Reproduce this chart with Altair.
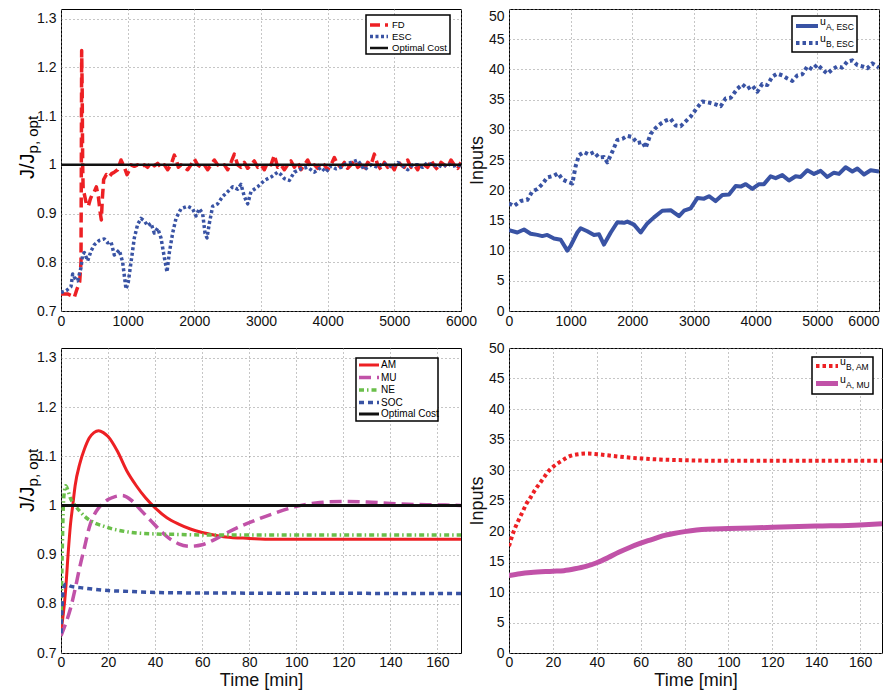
import altair as alt
import pandas as pd

FONT = "Liberation Sans"
RED = "#ed2024"
BLUE = "#3953a4"
MAGENTA = "#c152a8"
GREEN = "#6abf4a"
BLACK = "#111111"

# ---------------- top-left: cost ratio, long horizon ----------------
fd_t = [0, 100, 150, 200, 240, 280, 300, 305, 310, 318, 325, 332, 350, 380, 410, 440, 470, 500, 530, 560,
        590, 605, 620, 640, 680, 720, 760, 800, 850, 900, 950, 990, 1010, 1050, 1100, 1150, 1200, 1250,
        1300, 1350, 1400, 1450, 1500, 1550, 1600, 1650, 1700, 1730, 1760, 1800, 1850, 1900, 1950, 2000,
        2050, 2100, 2150, 2200, 2250, 2300, 2350, 2400, 2450, 2500, 2550, 2600, 2650, 2700, 2750, 2800,
        2850, 2900, 2950, 3000, 3050, 3100, 3150, 3200, 3250, 3300, 3350, 3400, 3450, 3500, 3550, 3600,
        3650, 3700, 3750, 3800, 3850, 3900, 3950, 4000, 4050, 4100, 4150, 4200, 4250, 4300, 4350, 4400,
        4450, 4500, 4550, 4600, 4650, 4700, 4750, 4800, 4850, 4900, 4950, 5000, 5050, 5100, 5150, 5200,
        5250, 5300, 5350, 5400, 5450, 5500, 5550, 5600, 5650, 5700, 5750, 5800, 5850, 5900, 5950, 6000]
fd_v = [0.735, 0.735, 0.732, 0.728, 0.745, 0.76, 0.80, 1.0, 1.235, 1.15, 1.0, 0.95, 0.94, 0.92, 0.915, 0.93,
        0.94, 0.945, 0.955, 0.935, 0.90, 0.887, 0.93, 0.97, 0.98, 0.975, 0.982, 0.985, 0.99, 1.01, 0.995,
        0.98, 0.985, 1.0, 0.997, 1.0, 0.995, 1.0, 0.995, 1.005, 0.998, 1.003, 0.995, 1.0, 0.99, 1.0, 1.02,
        1.01, 0.995, 1.0, 0.995, 0.99, 1.0, 1.012, 1.0, 0.995, 1.0, 0.99, 1.0, 1.01, 1.0, 0.995, 1.0, 0.99,
        1.005, 1.022, 1.0, 0.995, 1.005, 0.993, 1.0, 1.008, 0.995, 1.0, 0.99, 1.005, 1.0, 1.02, 0.995, 1.0,
        0.99, 1.0, 1.008, 0.995, 1.005, 0.99, 1.0, 1.01, 0.995, 1.0, 0.993, 1.005, 1.0, 0.99, 1.0, 1.015,
        1.0, 0.995, 1.005, 0.993, 1.0, 1.01, 0.995, 1.0, 0.99, 1.005, 1.0, 1.022, 1.0, 0.99, 1.005, 0.995,
        1.0, 0.99, 1.008, 1.0, 0.995, 1.01, 0.995, 1.0, 0.99, 1.005, 1.0, 0.995, 1.01, 0.998, 0.99, 1.005,
        1.0, 0.995, 1.01, 1.0, 0.993, 1.005]
esc_t = [0, 80, 150, 175, 200, 250, 300, 325, 350, 400, 450, 500, 575, 650, 700, 750, 800, 875, 925, 975,
         1010, 1050, 1100, 1150, 1200, 1250, 1300, 1350, 1400, 1450, 1500, 1550, 1590, 1625, 1675, 1725,
         1800, 1900, 1975, 2025, 2075, 2125, 2160, 2190, 2225, 2275, 2350, 2425, 2500, 2575, 2650, 2700,
         2750, 2800, 2850, 2950, 3050, 3150, 3250, 3300, 3350, 3425, 3500, 3600, 3700, 3800, 3900, 3975,
         4050, 4125, 4200, 4275, 4350, 4450, 4550, 4650, 4750, 4825, 4900, 4975, 5050, 5125, 5200, 5275,
         5350, 5425, 5500, 5575, 5650, 5725, 5800, 5875, 5950, 6000]
esc_v = [0.738, 0.742, 0.75, 0.776, 0.769, 0.762, 0.789, 0.816, 0.82, 0.803, 0.823, 0.836, 0.845, 0.848,
         0.84, 0.842, 0.815, 0.825, 0.80, 0.745, 0.76, 0.80, 0.85, 0.878, 0.89, 0.885, 0.875, 0.88, 0.86,
         0.87, 0.85, 0.81, 0.78, 0.82, 0.86, 0.89, 0.91, 0.915, 0.91, 0.895, 0.91, 0.90, 0.86, 0.85, 0.88,
         0.915, 0.92, 0.935, 0.945, 0.955, 0.95, 0.96, 0.935, 0.92, 0.945, 0.955, 0.968, 0.975, 0.985, 0.98,
         0.972, 0.968, 0.985, 0.992, 0.995, 0.985, 0.995, 0.985, 0.998, 0.992, 0.995, 1.002, 1.005, 1.01,
         0.99, 1.0, 0.995, 1.003, 1.0, 0.995, 1.005, 0.998, 0.99, 1.0, 1.0, 0.995, 1.005, 0.998, 1.0, 0.995,
         1.003, 0.997, 1.0, 0.998]
opt_long_t = [0, 6000]
opt_long_v = [1.0, 1.0]

# ---------------- top-right: inputs, long horizon ----------------
ua_esc_t = [0, 135, 243, 351, 460, 540, 620, 730, 838, 946, 1000, 1108, 1162, 1270, 1378, 1460, 1540, 1650,
            1757, 1865, 1919, 2027, 2135, 2243, 2351, 2486, 2621, 2757, 2838, 2946, 3054, 3162, 3243, 3351,
            3460, 3568, 3676, 3757, 3838, 3946, 4054, 4135, 4243, 4324, 4432, 4540, 4649, 4730, 4838, 4946,
            5054, 5162, 5270, 5351, 5459, 5568, 5649, 5757, 5865, 6000]
ua_esc_v = [13.4, 13.0, 13.5, 12.8, 12.6, 12.4, 12.6, 12.0, 11.8, 10.0, 10.8, 13.0, 13.7, 13.2, 12.6, 12.7,
            11.0, 13.0, 14.7, 14.6, 14.8, 14.3, 13.0, 14.5, 15.5, 16.6, 16.7, 15.7, 16.6, 17.0, 18.7, 18.6,
            19.0, 18.2, 19.2, 19.3, 20.7, 20.6, 21.0, 20.2, 21.0, 21.0, 22.3, 22.0, 22.5, 21.6, 22.3, 22.2,
            23.3, 22.7, 23.2, 22.2, 22.9, 22.7, 23.8, 23.1, 23.6, 22.6, 23.3, 23.1]
ub_esc_t = [0, 81, 189, 297, 378, 460, 540, 620, 730, 795, 865, 946, 1027, 1081, 1135, 1216, 1297, 1378,
            1459, 1540, 1595, 1676, 1757, 1838, 1919, 2000, 2081, 2162, 2216, 2297, 2378, 2459, 2540, 2621,
            2703, 2784, 2865, 2946, 3054, 3135, 3243, 3351, 3432, 3514, 3595, 3703, 3784, 3865, 3946, 4027,
            4108, 4189, 4270, 4351, 4432, 4514, 4595, 4676, 4757, 4838, 4919, 5000, 5081, 5162, 5243, 5324,
            5405, 5486, 5568, 5649, 5730, 5811, 5892, 6000]
ub_esc_v = [17.8, 17.4, 18.2, 18.4, 19.8, 20.2, 21.0, 22.1, 22.4, 22.8, 21.8, 21.4, 21.1, 24.0, 25.8, 26.3,
            25.9, 26.3, 25.4, 25.5, 24.6, 26.4, 28.3, 28.5, 29.0, 28.8, 27.8, 28.0, 27.0, 29.3, 30.3, 31.0,
            31.5, 31.8, 30.7, 30.6, 31.4, 32.2, 33.7, 34.7, 34.5, 34.2, 33.9, 35.2, 35.3, 36.8, 37.5, 36.8,
            37.3, 36.3, 37.6, 37.4, 38.8, 39.3, 39.0, 38.5, 38.1, 39.0, 39.2, 40.5, 40.0, 40.8, 40.0, 39.3,
            40.0, 40.5, 40.3, 41.3, 41.5, 40.7, 40.5, 40.2, 41.0, 40.3]

# ---------------- bottom-left: cost ratio, minutes ----------------
am_t = [0, 1, 2, 3, 4, 5, 6, 8, 10, 12, 14, 16, 18, 20, 24, 28, 32, 36, 40, 45, 50, 55, 60, 65, 70, 80, 90, 100, 170]
am_v = [0.745, 0.78, 0.83, 0.90, 0.96, 1.0, 1.04, 1.085, 1.115, 1.137, 1.148, 1.152, 1.148, 1.14, 1.11, 1.07,
        1.04, 1.015, 0.995, 0.975, 0.962, 0.952, 0.945, 0.94, 0.936, 0.933, 0.931, 0.931, 0.931]
mu_t = [0, 2, 4, 6, 8, 10, 12, 14, 16, 18, 20, 23, 26, 30, 34, 38, 42, 46, 50, 55, 60, 65, 70, 75, 80, 90,
        100, 110, 120, 130, 140, 150, 160, 170]
mu_v = [0.735, 0.76, 0.79, 0.83, 0.875, 0.915, 0.955, 0.98, 0.995, 1.005, 1.012, 1.018, 1.02, 1.01, 0.99,
        0.97, 0.95, 0.933, 0.922, 0.917, 0.92, 0.93, 0.943, 0.955, 0.965, 0.983, 0.998, 1.006, 1.008, 1.007,
        1.004, 1.002, 1.001, 1.0]
ne_t = [0, 0.5, 1, 1.5, 2, 3, 4, 6, 8, 10, 14, 18, 22, 26, 30, 40, 50, 60, 170]
ne_v = [0.76, 0.90, 1.0, 1.03, 1.04, 1.03, 1.015, 1.0, 0.988, 0.978, 0.965, 0.958, 0.952, 0.948, 0.945,
        0.942, 0.941, 0.94, 0.94]
soc_t = [0, 0.5, 1, 2, 4, 10, 20, 30, 40, 60, 170]
soc_v = [0.74, 0.80, 0.83, 0.84, 0.836, 0.832, 0.827, 0.825, 0.823, 0.822, 0.821]
opt_short_t = [0, 170]
opt_short_v = [1.0, 1.0]

# ---------------- bottom-right: inputs, minutes ----------------
ub_am_t = [0, 2, 4, 6, 8, 10, 12, 14, 16, 18, 20, 24, 28, 32, 36, 40, 45, 50, 60, 70, 80, 100, 170]
ub_am_v = [17.5, 19.8, 21.5, 23.0, 24.5, 25.6, 26.8, 27.8, 28.8, 29.8, 30.5, 31.5, 32.3, 32.6, 32.7, 32.6,
           32.4, 32.2, 31.9, 31.7, 31.6, 31.5, 31.5]
ua_mu_t = [0, 5, 10, 20, 25, 30, 35, 40, 45, 50, 55, 60, 65, 70, 75, 80, 90, 100, 120, 140, 160, 170]
ua_mu_v = [12.7, 13.0, 13.2, 13.4, 13.5, 13.8, 14.2, 14.8, 15.6, 16.5, 17.3, 18.0, 18.6, 19.2, 19.6, 19.9,
           20.3, 20.4, 20.6, 20.8, 21.0, 21.2]

# ---------------- ticks ----------------
long_xticks = [0, 1000, 2000, 3000, 4000, 5000, 6000]
short_xticks = [0, 20, 40, 60, 80, 100, 120, 140, 160]
cost_yticks = [0.7, 0.8, 0.9, 1.0, 1.1, 1.2, 1.3]
input_yticks = [0, 5, 10, 15, 20, 25, 30, 35, 40, 45, 50]

ONE = pd.DataFrame({"k": [0]})


def line(t, v, x, y, color, width, dash=None, interp="linear"):
    kw = dict(color=color, strokeWidth=width, strokeCap="butt", strokeJoin="round", clip=True,
              interpolate=interp)
    if dash:
        kw["strokeDash"] = dash
    return alt.Chart(pd.DataFrame({"t": t, "v": v})).mark_line(**kw).encode(x=x, y=y)


def txt(s, x, y, size, **kw):
    return alt.Chart(ONE).mark_text(text=s, font=FONT, fontSize=size, color="black", **kw).encode(
        x=alt.value(x), y=alt.value(y))


def legend(box, rows, sample, text_x, size, entries, sub_dx=0, sub_size=8):
    x0, y0, x1, y1 = box
    layers = [alt.Chart(ONE).mark_rect(fill="white", stroke="black", strokeWidth=1.5).encode(
        x=alt.value(x0), x2=alt.value(x1), y=alt.value(y0), y2=alt.value(y1))]
    for (main, sub, color, width, dash), yc in zip(entries, rows):
        kw = dict(color=color, strokeWidth=width, strokeCap="butt")
        if dash:
            kw["strokeDash"] = dash
        layers.append(alt.Chart(ONE).mark_rule(**kw).encode(
            x=alt.value(sample[0]), x2=alt.value(sample[1]), y=alt.value(yc)))
        if sub:
            layers.append(txt(main, text_x, yc - 1, size, align="left", baseline="alphabetic"))
            layers.append(txt(sub, text_x + sub_dx, yc + 4, sub_size, align="left", baseline="alphabetic"))
        else:
            layers.append(txt(main, text_x, yc, size, align="left", baseline="middle"))
    return layers


def cost_title(y_start):
    return [
        txt("J/J", -27, y_start, 20, angle=270, align="left", baseline="alphabetic"),
        txt("p, opt", -23, y_start - 25.6, 15, angle=270, align="left", baseline="alphabetic"),
    ]


def xenc(dom, ticks, title=None, last_right=None, label_pad=3):
    ax = dict(values=ticks, title=title, format="d", labelPadding=label_pad, titlePadding=2, labelFlush=False)
    if last_right is not None:
        ax["labelAlign"] = {"condition": {"test": "datum.value == %d" % last_right, "value": "right"},
                            "value": "center"}
    return alt.X("t:Q", scale=alt.Scale(domain=dom, nice=False, zero=False), axis=alt.Axis(**ax))


def yenc_cost():
    return alt.Y("v:Q", scale=alt.Scale(domain=[0.7, 1.32], nice=False, zero=False),
                 axis=alt.Axis(values=cost_yticks, title=None, format="~g", labelPadding=5))


def yenc_input(flush_top=False):
    ax = dict(values=input_yticks, title="Inputs", labelPadding=5, titlePadding=2)
    if flush_top:
        ax["labelBaseline"] = {"condition": {"test": "datum.value == 50", "value": "top"}, "value": "middle"}
    return alt.Y("v:Q", scale=alt.Scale(domain=[0, 50], nice=False, zero=False), axis=alt.Axis(**ax))


# ---- top-left ----
x = xenc([0, 6000], long_xticks)
y = yenc_cost()
tl = alt.layer(
    line(fd_t, fd_v, x, y, RED, 3.5, [10, 5]),
    line(esc_t, esc_v, x, y, BLUE, 3.5, [3, 2.5]),
    line(opt_long_t, opt_long_v, x, y, BLACK, 2.5),
    *legend((305, 6, 389, 45), [16, 27.5, 39], (309, 327), 331, 9.5,
            [("FD", None, RED, 3.5, [10, 5]),
             ("ESC", None, BLUE, 3.5, [3, 2.5]),
             ("Optimal Cost", None, BLACK, 2.5, None)]),
    *cost_title(170),
    alt.Chart(ONE).mark_rule(opacity=0).encode(x=alt.value(-52), y=alt.value(0), y2=alt.value(1)),
).properties(width=400, height=302)

# ---- top-right ----
x = xenc([0, 6000], long_xticks, last_right=6000)
y = yenc_input(flush_top=True)
tr = alt.layer(
    line(ua_esc_t, ua_esc_v, x, y, BLUE, 4),
    line(ub_esc_t, ub_esc_v, x, y, BLUE, 4, [3.5, 3]),
    *legend((283, 7, 348, 43), [17, 34], (287, 309), 311, 10.5,
            [("u", "A, ESC", BLUE, 4, None),
             ("u", "B, ESC", BLUE, 4, [3.5, 3])], sub_dx=6, sub_size=8.5),
).properties(width=370, height=302)

# ---- bottom-left ----
x = xenc([0, 170], short_xticks, "Time [min]", label_pad=2)
y = yenc_cost()
bl = alt.layer(
    line(am_t, am_v, x, y, RED, 3, interp="monotone"),
    line(mu_t, mu_v, x, y, MAGENTA, 3.5, [12, 6], interp="monotone"),
    line(ne_t, ne_v, x, y, GREEN, 3.5, [5, 3, 1.5, 3], interp="monotone"),
    line(soc_t, soc_v, x, y, BLUE, 3.5, [5, 4], interp="monotone"),
    line(opt_short_t, opt_short_v, x, y, BLACK, 3),
    *legend((295, 10, 377, 73), [17, 29.5, 42, 54.5, 66], (298, 318), 320, 10,
            [("AM", None, RED, 3, None),
             ("MU", None, MAGENTA, 3.5, [12, 6]),
             ("NE", None, GREEN, 3.5, [5, 3, 1.5, 3]),
             ("SOC", None, BLUE, 3.5, [5, 4]),
             ("Optimal Cost", None, BLACK, 3, None)]),
    *cost_title(164),
).properties(width=400, height=305)

# ---- bottom-right ----
x = xenc([0, 170], short_xticks, "Time [min]", label_pad=2)
y = yenc_input()
br = alt.layer(
    line(ub_am_t, ub_am_v, x, y, RED, 4, [3.5, 3], interp="monotone"),
    line(ua_mu_t, ua_mu_v, x, y, MAGENTA, 5, interp="monotone"),
    *legend((303, 9, 364, 46), [18, 35.5], (307, 329), 331, 10.5,
            [("u", "B, AM", RED, 4, [3.5, 3]),
             ("u", "A, MU", MAGENTA, 5, None)], sub_dx=6, sub_size=8.5),
).properties(width=373, height=305)

chart = alt.concat(tl, tr, bl, br, columns=2, spacing={"row": 37, "column": 48}, bounds="flush").properties(
    padding=0
).configure_view(stroke="black", strokeWidth=1).configure_axis(
    domain=False, ticks=False, grid=True, gridColor="#8c8c8c", gridDash=[1, 3], gridWidth=1,
    labelFont=FONT, labelFontSize=14, labelColor="#111111",
    titleFont=FONT, titleFontSize=18, titleFontWeight="normal", titleColor="#111111",
)

chart.save("out.html", embed_options={"renderer": "svg", "actions": False})
